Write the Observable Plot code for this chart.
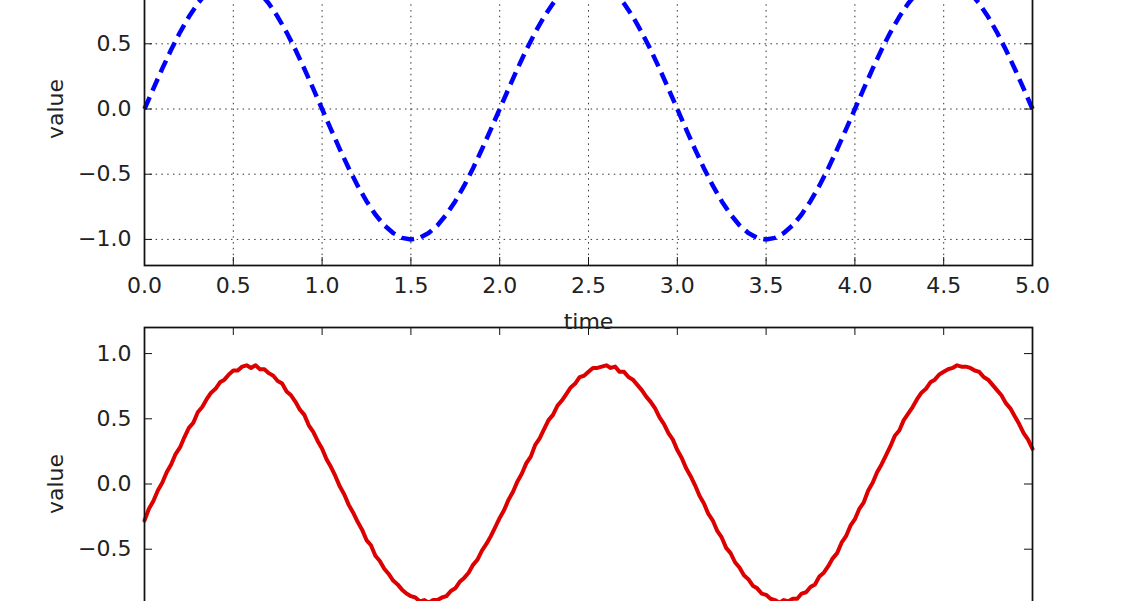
<!DOCTYPE html>
<html>
<head>
<meta charset="utf-8">
<script src="https://cdn.jsdelivr.net/npm/d3@7"></script>
<script src="https://cdn.jsdelivr.net/npm/@observablehq/plot@0.6"></script>
<style>
  html, body { margin: 0; padding: 0; background: #fff; overflow: hidden; }
  #wrap { position: relative; width: 1145px; height: 601px; overflow: hidden; background: #fff; }
  #wrap svg { position: absolute; left: 0; }
</style>
</head>
<body>
<div id="wrap"></div>
<script>
// ---- data ----
const xTicks = [0, 0.5, 1, 1.5, 2, 2.5, 3, 3.5, 4, 4.5, 5];
const yTicks = [-1, -0.5, 0, 0.5, 1];
const topYLabels = [-1, -0.5, 0, 0.5];   // tick labels visible in the top panel
const botYLabels = [-0.5, 0, 0.5, 1];    // tick labels visible in the bottom panel
const xDomain = [0, 5];
const yDomain = [-1.2, 1.2];
const xLabel = "time";
const yLabel = "value";

// top panel: blue dashed curve
const topTime = [0,0.05,0.1,0.15,0.2,0.25,0.3,0.35,0.4,0.45,0.5,0.55,0.6,0.65,0.7,0.75,0.8,0.85,0.9,0.95,
  1,1.05,1.1,1.15,1.2,1.25,1.3,1.35,1.4,1.45,1.5,1.55,1.6,1.65,1.7,1.75,1.8,1.85,1.9,1.95,
  2,2.05,2.1,2.15,2.2,2.25,2.3,2.35,2.4,2.45,2.5,2.55,2.6,2.65,2.7,2.75,2.8,2.85,2.9,2.95,
  3,3.05,3.1,3.15,3.2,3.25,3.3,3.35,3.4,3.45,3.5,3.55,3.6,3.65,3.7,3.75,3.8,3.85,3.9,3.95,
  4,4.05,4.1,4.15,4.2,4.25,4.3,4.35,4.4,4.45,4.5,4.55,4.6,4.65,4.7,4.75,4.8,4.85,4.9,4.95,5];
const topValue = [0,0.156,0.309,0.454,0.588,0.707,0.809,0.891,0.951,0.988,1,0.988,0.951,0.891,0.809,0.707,0.588,0.454,0.309,0.156,
  0,-0.156,-0.309,-0.454,-0.588,-0.707,-0.809,-0.891,-0.951,-0.988,-1,-0.988,-0.951,-0.891,-0.809,-0.707,-0.588,-0.454,-0.309,-0.156,
  0,0.156,0.309,0.454,0.588,0.707,0.809,0.891,0.951,0.988,1,0.988,0.951,0.891,0.809,0.707,0.588,0.454,0.309,0.156,
  0,-0.156,-0.309,-0.454,-0.588,-0.707,-0.809,-0.891,-0.951,-0.988,-1,-0.988,-0.951,-0.891,-0.809,-0.707,-0.588,-0.454,-0.309,-0.156,
  0,0.156,0.309,0.454,0.588,0.707,0.809,0.891,0.951,0.988,1,0.988,0.951,0.891,0.809,0.707,0.588,0.454,0.309,0.156,0];

// bottom panel: red noisy curve
const botTime = [0,0.025,0.05,0.075,0.1,0.125,0.15,0.175,0.2,0.225,0.25,0.275,0.3,0.325,0.35,0.375,0.4,0.425,0.45,0.475,
  0.5,0.525,0.55,0.575,0.6,0.625,0.65,0.675,0.7,0.725,0.75,0.775,0.8,0.825,0.85,0.875,0.9,0.925,0.95,0.975,
  1,1.025,1.05,1.075,1.1,1.125,1.15,1.175,1.2,1.225,1.25,1.275,1.3,1.325,1.35,1.375,1.4,1.425,1.45,1.475,
  1.5,1.525,1.55,1.575,1.6,1.625,1.65,1.675,1.7,1.725,1.75,1.775,1.8,1.825,1.85,1.875,1.9,1.925,1.95,1.975,
  2,2.025,2.05,2.075,2.1,2.125,2.15,2.175,2.2,2.225,2.25,2.275,2.3,2.325,2.35,2.375,2.4,2.425,2.45,2.475,
  2.5,2.525,2.55,2.575,2.6,2.625,2.65,2.675,2.7,2.725,2.75,2.775,2.8,2.825,2.85,2.875,2.9,2.925,2.95,2.975,
  3,3.025,3.05,3.075,3.1,3.125,3.15,3.175,3.2,3.225,3.25,3.275,3.3,3.325,3.35,3.375,3.4,3.425,3.45,3.475,
  3.5,3.525,3.55,3.575,3.6,3.625,3.65,3.675,3.7,3.725,3.75,3.775,3.8,3.825,3.85,3.875,3.9,3.925,3.95,3.975,
  4,4.025,4.05,4.075,4.1,4.125,4.15,4.175,4.2,4.225,4.25,4.275,4.3,4.325,4.35,4.375,4.4,4.425,4.45,4.475,
  4.5,4.525,4.55,4.575,4.6,4.625,4.65,4.675,4.7,4.725,4.75,4.775,4.8,4.825,4.85,4.875,4.9,4.925,4.95,4.975,5];
const botValue = [-0.28,-0.19,-0.13,-0.05,0.01,0.09,0.15,0.23,0.28,0.36,0.43,0.47,0.55,0.59,0.65,0.70,0.73,0.78,0.80,0.84,
  0.87,0.87,0.90,0.91,0.89,0.91,0.88,0.88,0.85,0.83,0.79,0.77,0.71,0.68,0.63,0.57,0.53,0.45,0.40,0.33,
  0.27,0.19,0.13,0.06,-0.02,-0.08,-0.16,-0.22,-0.29,-0.35,-0.43,-0.47,-0.55,-0.59,-0.65,-0.69,-0.74,-0.77,-0.81,-0.84,
  -0.86,-0.87,-0.90,-0.89,-0.91,-0.89,-0.89,-0.87,-0.86,-0.82,-0.80,-0.75,-0.72,-0.68,-0.62,-0.58,-0.51,-0.46,-0.40,-0.33,
  -0.26,-0.20,-0.12,-0.06,0.02,0.08,0.16,0.21,0.30,0.35,0.42,0.49,0.53,0.60,0.64,0.69,0.74,0.77,0.82,0.83,
  0.86,0.89,0.89,0.90,0.91,0.89,0.90,0.86,0.86,0.82,0.80,0.76,0.72,0.67,0.63,0.58,0.51,0.46,0.39,0.34,
  0.26,0.20,0.12,0.06,-0.01,-0.09,-0.15,-0.23,-0.28,-0.36,-0.41,-0.49,-0.53,-0.60,-0.64,-0.70,-0.73,-0.78,-0.80,-0.84,
  -0.85,-0.88,-0.89,-0.91,-0.89,-0.90,-0.88,-0.88,-0.84,-0.83,-0.79,-0.77,-0.71,-0.68,-0.63,-0.57,-0.53,-0.45,-0.40,-0.32,
  -0.27,-0.19,-0.14,-0.05,0.01,0.09,0.15,0.22,0.29,0.37,0.41,0.49,0.54,0.59,0.65,0.70,0.73,0.78,0.80,0.84,
  0.86,0.88,0.89,0.91,0.90,0.90,0.89,0.87,0.86,0.82,0.80,0.76,0.72,0.68,0.62,0.58,0.52,0.46,0.39,0.34,0.27];

// ---- drawing ----
const W = 1145;
const plotH = 313;
const mL = 144, mR = 113, mB = 90;
const tickLen = 8;
const fmt = d3.format(".1f");

function panel({times, values, lineOpts, grid, xAxisText, yLabels}) {
  const rows = times.map((t, i) => ({t, v: values[i]}));
  const marks = [];
  if (grid) {
    marks.push(Plot.gridX(xTicks.slice(1, -1), {stroke: "#333", strokeOpacity: 1, strokeWidth: 1, strokeDasharray: "1.5,4.3"}));
    marks.push(Plot.gridY(yTicks, {stroke: "#333", strokeOpacity: 1, strokeWidth: 1, strokeDasharray: "1.5,4.3"}));
  }
  marks.push(Plot.line(rows, {x: "t", y: "v", ...lineOpts}));
  // inward ticks on all four sides
  marks.push(Plot.ruleX(xTicks, {x: d => d, insetTop: plotH - tickLen, stroke: "#111", strokeWidth: 1}));
  marks.push(Plot.ruleX(xTicks, {x: d => d, insetBottom: plotH - tickLen, stroke: "#111", strokeWidth: 1}));
  marks.push(Plot.ruleY(yTicks, {y: d => d, insetRight: (W - mL - mR) - tickLen, stroke: "#111", strokeWidth: 1}));
  marks.push(Plot.ruleY(yTicks, {y: d => d, insetLeft: (W - mL - mR) - tickLen, stroke: "#111", strokeWidth: 1}));
  if (xAxisText) {
    marks.push(Plot.axisX(xTicks, {tickSize: 0, tickPadding: 12, tickFormat: fmt, label: null}));
    marks.push(Plot.text([xLabel], {text: d => d, frameAnchor: "bottom", textAnchor: "middle", dy: 56, lineAnchor: "middle", fill: "#222"}));
  }
  marks.push(Plot.axisY(yLabels, {tickSize: 0, tickPadding: 13, tickFormat: fmt, label: null}));
  marks.push(Plot.frame({stroke: "#111", strokeWidth: 1.75}));
  marks.push(Plot.text([yLabel], {text: d => d, frameAnchor: "left", textAnchor: "middle", rotate: -90, dx: -89, lineAnchor: "middle", fill: "#222"}));
  return Plot.plot({
    width: W,
    height: plotH + mB,
    marginLeft: mL,
    marginRight: mR,
    marginTop: 0,
    marginBottom: mB,
    x: {domain: xDomain, axis: xAxisText ? undefined : null},
    y: {domain: yDomain},
    style: {background: "transparent", overflow: "visible", fontFamily: "DejaVu Sans", fontSize: "22px", color: "#222"},
    marks
  });
}

const wrap = document.getElementById("wrap");

const topSvg = panel({
  times: topTime, values: topValue, grid: true, xAxisText: true, yLabels: topYLabels,
  lineOpts: {stroke: "#0000ff", strokeWidth: 4.5, strokeDasharray: "13,7", strokeLinecap: "butt"}
});
topSvg.style.top = "-48.5px";

const botSvg = panel({
  times: botTime, values: botValue, grid: false, xAxisText: false, yLabels: botYLabels,
  lineOpts: {stroke: "#dc0000", strokeWidth: 4, strokeLinejoin: "round"}
});
botSvg.style.top = "327px";

wrap.appendChild(botSvg);
wrap.appendChild(topSvg);
</script>
</body>
</html>
